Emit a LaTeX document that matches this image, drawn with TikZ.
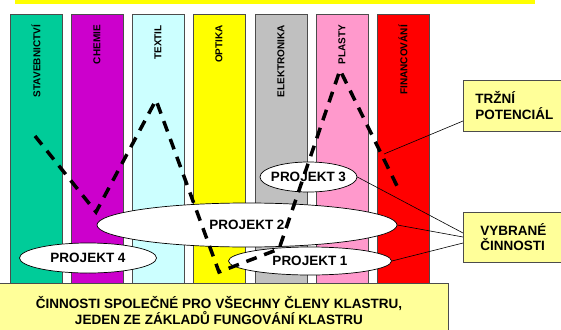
\documentclass[tikz,border=0pt]{standalone}
\usepackage{fontspec}
\setmainfont{Liberation Sans}[BoldFont={Liberation Sans Bold}]
\usetikzlibrary{positioning, shapes.geometric}
\definecolor{stavba}{RGB}{0,204,153}
\definecolor{chemie}{RGB}{204,0,204}
\definecolor{textil}{RGB}{204,255,255}
\definecolor{optika}{RGB}{255,255,0}
\definecolor{elektro}{RGB}{192,192,192}
\definecolor{plasty}{RGB}{255,153,204}
\definecolor{finance}{RGB}{255,0,0}
\definecolor{svetla}{RGB}{255,255,153}

\begin{document}
\begin{tikzpicture}[x=1pt, y=-1pt,
	sloupec/.style={draw=black!70, line width=0.7pt},
	nazev/.style={rotate=90, anchor=east, inner sep=0pt, font=\bfseries\fontsize{10}{11}\selectfont},
	proj/.style={draw=black, ellipse, fill=white, inner sep=0pt, line width=0.7pt, font=\bfseries\fontsize{13.5}{15}\selectfont},
	ramec/.style={draw=black!70, fill=svetla, line width=0.8pt},
	popis/.style={align=left, font=\bfseries\fontsize{13.5}{15.5}\selectfont},
	cesta/.style={line width=3.5pt, dash pattern=on 11pt off 8pt},
	spoj/.style={line width=0.6pt}]
	\useasboundingbox (0, 0) rectangle (561, 329);
	\fill[optika] (15, 0) rectangle (535, 4);
	\foreach \x/\barva/\jm [count=\i] in {10/stavba/STAVEBNICTVÍ, 71/chemie/CHEMIE, 132/textil/TEXTIL, 193/optika/OPTIKA, 255/elektro/ELEKTRONIKA, 316/plasty/PLASTY, 377/finance/FINANCOVÁNÍ}{
		\draw[sloupec, fill=\barva] (\x, 14) rectangle ++(52, 269);
		\node[nazev] (obor\i) at (\x+26, 25) {\jm};
	}
	\node[proj, minimum width=137pt, minimum height=30pt] (p4) at (88, 258) {\makebox[0pt]{PROJEKT 4}};
	\node[proj, minimum width=300pt, minimum height=44pt] (p2) at (247, 225) {\makebox[0pt]{PROJEKT 2}};
	\node[proj, minimum width=163pt, minimum height=28pt] (p1) at (310, 261) {\makebox[0pt]{PROJEKT 1}};
	\node[proj, minimum width=97pt, minimum height=30pt] (p3) at (308.5, 177) {\makebox[0pt]{PROJEKT 3}};
	\draw[cesta] (35, 136) -- (96, 212) -- (156, 100) -- (219, 272) -- (279, 249) -- (340, 70) -- (399, 190);
	\draw[ramec] (-2, 283) rectangle (448, 331);
	\node[align=center, font=\bfseries\fontsize{13.5}{15}\selectfont] (zaklad) at (219, 310.5) {ČINNOSTI SPOLEČNÉ PRO VŠECHNY ČLENY KLASTRU,\\JEDEN ZE ZÁKLADŮ FUNGOVÁNÍ KLASTRU};
	\node[ramec, popis, anchor=west, text width=84pt, inner xsep=12pt, minimum height=51pt] (trh) at (463, 105.5) {TRŽNÍ\\POTENCIÁL};
	\node[ramec, popis, anchor=west, text width=84pt, inner xsep=17pt, minimum height=50pt] (vyb) at (463, 237) {VYBRANÉ\\ČINNOSTI};
	\coordinate (trhcil) at (384, 154);
	\draw[spoj] ([yshift=-15.5pt]trh.west) -- (trhcil);
	\draw[spoj] (p3.east) -- ([yshift=4pt]vyb.west);
	\draw[spoj] (p2.east) -- (vyb.west);
	\draw[spoj] (p1.east) -- ([yshift=-6pt]vyb.west);
\end{tikzpicture}
\end{document}
